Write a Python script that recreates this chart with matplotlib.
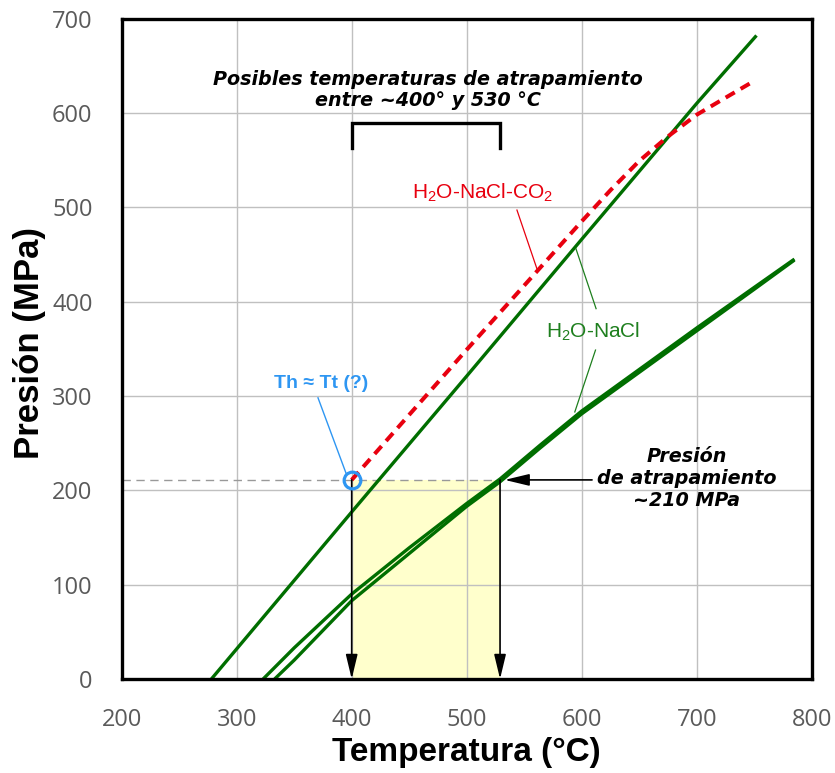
import matplotlib
matplotlib.use("Agg")
import matplotlib.pyplot as plt
from matplotlib.patches import Rectangle

plt.rcParams["mathtext.fontset"] = "custom"
plt.rcParams["mathtext.rm"] = "Liberation Sans"
plt.rcParams["mathtext.it"] = "Liberation Sans:italic"
plt.rcParams["mathtext.bf"] = "Liberation Sans:bold"

# ---------------- data ----------------
# H2O-NaCl isochore (steep)
t_nacl_1 = [278, 400, 500, 600, 700, 752]
p_nacl_1 = [0, 177, 321, 466, 610, 682]

# H2O-NaCl-CO2 isochore (dashed)
t_co2 = [400, 450, 500, 550, 600, 625, 650, 675, 700, 725, 746]
p_co2 = [211, 280, 349, 417, 485, 518, 549, 575, 598, 616, 631]

# H2O-NaCl isochores (lower pair)
t_nacl_a = [323, 350, 400, 450, 500, 529, 564, 600, 650, 700, 750, 785]
p_nacl_a = [0, 33, 90, 139, 186, 212, 248, 284, 328, 372, 415, 445]
t_nacl_b = [333, 350, 400, 450, 500, 529, 564, 600, 650, 700, 750, 785]
p_nacl_b = [0, 20, 83, 133, 183, 209, 245, 281, 325, 369, 413, 444]

# trapping conditions
t_min, t_max = 400, 529
p_trap = 211

x_ticks = [200, 300, 400, 500, 600, 700, 800]
y_ticks = [0, 100, 200, 300, 400, 500, 600, 700]

GREEN = "#006E00"
GREEN_TXT = "#1E7F1E"
RED = "#E8000F"
BLUE = "#2E96F2"

fig = plt.figure(figsize=(8.35, 7.73), dpi=100)
ax = fig.add_axes([121.7 / 835, 94 / 773, 690 / 835, 660.5 / 773])
ax.set_xlim(200, 800)
ax.set_ylim(0, 700)
ax.set_xticks(x_ticks)
ax.set_yticks(y_ticks)
ax.set_axisbelow(True)
ax.grid(True, color="#C0C0C0", lw=1.0, zorder=0.5)
ax.tick_params(length=0, pad=21, labelsize=17, labelcolor="#5A5A5A")
for lab in ax.get_xticklabels() + ax.get_yticklabels():
    lab.set_fontfamily(["Open Sans", "DejaVu Sans"])
for s in ax.spines.values():
    s.set_linewidth(2.4)
    s.set_color("black")
    s.set_zorder(10)

# yellow box
ax.add_patch(Rectangle((t_min, 0), t_max - t_min, p_trap, facecolor="#FFFFCC",
                       edgecolor="none", zorder=0.3))
# dashed gray horizontal
ax.plot([200, t_max], [p_trap, p_trap], color="#999999", lw=1.0,
        dashes=(6, 4), zorder=2)

# curves
ax.plot(t_nacl_1, p_nacl_1, color=GREEN, lw=2.4, solid_capstyle="butt", zorder=4)
ax.plot(t_nacl_a, p_nacl_a, color=GREEN, lw=2.4, solid_capstyle="butt", zorder=4)
ax.plot(t_nacl_b, p_nacl_b, color=GREEN, lw=2.4, solid_capstyle="butt", zorder=4)
ax.plot(t_co2, p_co2, color=RED, lw=2.9, dashes=(2.6, 1.7), zorder=5)

# vertical arrows
arrow_kw = dict(arrowstyle="-|>,head_length=0.75,head_width=0.18",
                color="black", lw=1.2, mutation_scale=20, shrinkA=0, shrinkB=0)
ax.annotate("", xy=(t_min, 0), xytext=(t_min, p_trap), arrowprops=arrow_kw, zorder=6)
ax.annotate("", xy=(t_max, 0), xytext=(t_max, p_trap), arrowprops=arrow_kw, zorder=6)
# horizontal arrow
ax.annotate("", xy=(533, p_trap), xytext=(609, p_trap), arrowprops=arrow_kw, zorder=6)

# Th marker
ax.plot([t_min], [p_trap], marker="o", ms=12, mfc="none", mec=BLUE, mew=2.3, zorder=7)
ax.plot([370.7, 395.4], [298, 217], color=BLUE, lw=1.0, zorder=6)
ax.text(373.5, 313.7, "Th ≈ Tt (?)", color=BLUE, fontsize=14, fontweight="bold",
        family=["Liberation Sans", "DejaVu Sans"], ha="center", va="center")

# bracket
ax.plot([t_min, t_min, t_max, t_max], [563, 589.5, 589.5, 563], color="black",
        lw=2.4, solid_joinstyle="miter", zorder=6)
ax.text(466, 624, "Posibles temperaturas de atrapamiento\nentre ~400° y 530 °C",
        fontsize=13.8, fontweight="bold", fontstyle="italic",
        family=["DejaVu Sans"], ha="center", va="center",
        linespacing=1.12)

# labels of curves
ax.text(514, 515, "H$_2$O-NaCl-CO$_2$", color=RED, fontsize=15,
        family=["Liberation Sans", "DejaVu Sans"], ha="center", va="center")
ax.plot([543.7, 561], [497, 435], color=RED, lw=0.9, zorder=6)
ax.text(610, 367.7, "H$_2$O-NaCl", color=GREEN_TXT, fontsize=15,
        family=["Liberation Sans", "DejaVu Sans"], ha="center", va="center")
ax.plot([612.5, 595], [392.5, 456], color=GREEN_TXT, lw=0.9, zorder=6)
ax.plot([612, 594], [348.6, 283], color=GREEN_TXT, lw=0.9, zorder=6)

ax.text(691, 213, "Presión\nde atrapamiento\n~210 MPa", fontsize=13.8,
        fontweight="bold", fontstyle="italic",
        family=["DejaVu Sans"], ha="center", va="center",
        linespacing=1.2)

# axis labels
ax.text(0.5, -0.111, "Temperatura (°C)", transform=ax.transAxes, fontsize=24,
        fontweight="bold", family=["Liberation Sans", "DejaVu Sans"],
        ha="center", va="center")
ax.text(-0.133, 0.508, "Presión (MPa)", transform=ax.transAxes, fontsize=25,
        fontweight="bold", family=["Liberation Sans", "DejaVu Sans"],
        ha="center", va="center", rotation=90)

fig.savefig("out.png", dpi=100)
